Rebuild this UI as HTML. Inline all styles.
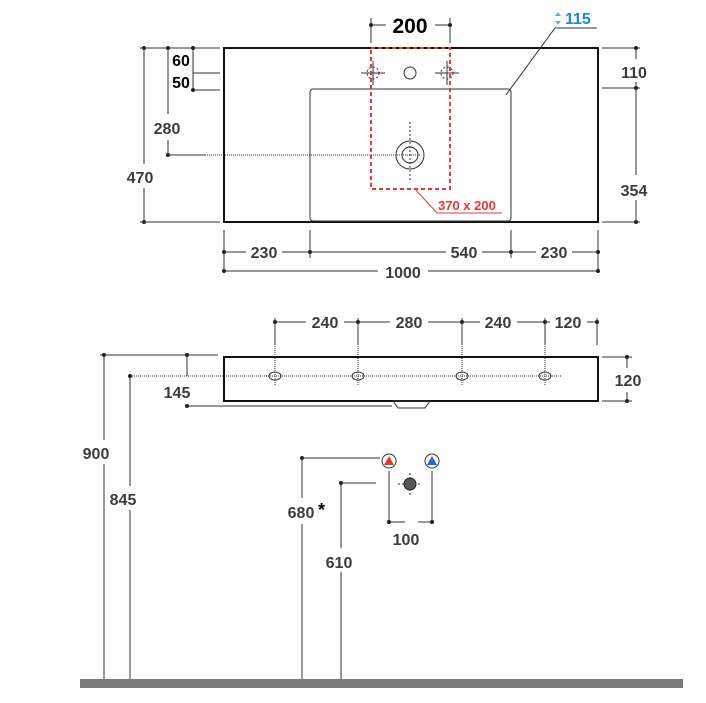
<!DOCTYPE html>
<html><head><meta charset="utf-8"><style>
html,body{margin:0;padding:0;background:#fff;}
svg text{font-family:"Liberation Sans",sans-serif;font-weight:bold;font-size:16px;fill:#3c3c3c;}
</style></head><body>
<svg width="706" height="698" viewBox="0 0 706 698" xmlns="http://www.w3.org/2000/svg">
<defs>
<marker id="d" viewBox="0 0 4 4" refX="2" refY="2" markerWidth="4" markerHeight="4" markerUnits="userSpaceOnUse"><circle cx="2" cy="2" r="2" fill="#222"/></marker>
</defs>
<g stroke="#333" stroke-width="1" fill="none">
<!-- top view -->
<rect x="224" y="48" width="374" height="174" stroke="#111" stroke-width="2"/>
<rect x="310" y="89" width="201" height="132" rx="3"/>
<circle cx="410" cy="155" r="14"/><circle cx="410" cy="155" r="8"/>
<line x1="410" y1="122" x2="410" y2="180" stroke-dasharray="2,2"/>
<circle cx="410" cy="73" r="6"/>
<circle cx="373" cy="73" r="6" stroke-dasharray="2,2"/><line x1="361" y1="73" x2="385" y2="73"/><line x1="373" y1="61" x2="373" y2="85"/>
<circle cx="447" cy="73" r="6" stroke-dasharray="2,2"/><line x1="435" y1="73" x2="459" y2="73"/><line x1="447" y1="61" x2="447" y2="85"/>
<rect x="371" y="48" width="79" height="141" stroke="#e53935" stroke-width="2" stroke-dasharray="4,3"/>
<polyline points="415,189 437,213 502,213" stroke="#e53935"/>
<line x1="371" y1="43" x2="371" y2="18"/><line x1="450" y1="43" x2="450" y2="18"/>
<line x1="371" y1="25" x2="386" y2="25" marker-start="url(#d)"/><line x1="435" y1="25" x2="450" y2="25" marker-end="url(#d)"/>
<polyline points="597,28 555,28 506,95"/>
<!-- left dims -->
<line x1="144" y1="48" x2="144" y2="164" marker-start="url(#d)"/><line x1="144" y1="188" x2="144" y2="222" marker-end="url(#d)"/>
<line x1="140" y1="48" x2="220" y2="48"/><line x1="140" y1="222" x2="220" y2="222"/>
<line x1="168" y1="48" x2="168" y2="114" marker-start="url(#d)"/><line x1="168" y1="140" x2="168" y2="155" marker-end="url(#d)"/>
<line x1="168" y1="155" x2="205" y2="155"/>
<line x1="205" y1="155" x2="420" y2="155" stroke-dasharray="1,1"/>
<line x1="193" y1="48" x2="193" y2="90" marker-start="url(#d)" marker-mid="url(#d)" marker-end="url(#d)"/>
<line x1="193" y1="73" x2="220" y2="73"/><line x1="193" y1="90" x2="220" y2="90"/>
<!-- right dims -->
<line x1="602" y1="48" x2="640" y2="48"/><line x1="602" y1="88" x2="640" y2="88"/><line x1="602" y1="222" x2="640" y2="222"/>
<line x1="636" y1="48" x2="636" y2="59" marker-start="url(#d)"/><line x1="636" y1="82" x2="636" y2="88" marker-end="url(#d)"/>
<line x1="636" y1="88" x2="636" y2="175"/><line x1="636" y1="200" x2="636" y2="222" marker-end="url(#d)"/>
<!-- bottom dims -->
<line x1="224" y1="230" x2="224" y2="270"/><line x1="310" y1="230" x2="310" y2="258"/><line x1="511" y1="230" x2="511" y2="258"/><line x1="598" y1="230" x2="598" y2="270"/>
<line x1="224" y1="252" x2="246" y2="252" marker-start="url(#d)"/><line x1="282" y1="252" x2="310" y2="252" marker-end="url(#d)"/>
<line x1="310" y1="252" x2="446" y2="252"/><line x1="482" y1="252" x2="511" y2="252" marker-end="url(#d)"/>
<line x1="511" y1="252" x2="536" y2="252"/><line x1="572" y1="252" x2="598" y2="252" marker-end="url(#d)"/>
<line x1="224" y1="271" x2="378" y2="271" marker-start="url(#d)"/><line x1="428" y1="271" x2="598" y2="271" marker-end="url(#d)"/>
<!-- front view -->
<rect x="224" y="357" width="374" height="44" stroke="#111" stroke-width="2"/>
<polygon points="393,401 398,408 425,408 430,401"/>
<line x1="130" y1="376" x2="562" y2="376" stroke-dasharray="1,1"/>
<g stroke-dasharray="1,1"><line x1="275" y1="322" x2="275" y2="386"/><line x1="358" y1="322" x2="358" y2="386"/><line x1="462" y1="322" x2="462" y2="386"/><line x1="545" y1="322" x2="545" y2="386"/></g>
<line x1="275" y1="318" x2="275" y2="345"/><line x1="358" y1="318" x2="358" y2="345"/><line x1="462" y1="318" x2="462" y2="345"/><line x1="545" y1="318" x2="545" y2="345"/><line x1="597" y1="318" x2="597" y2="345"/>
<ellipse cx="275" cy="376" rx="6" ry="4"/><ellipse cx="358" cy="376" rx="6" ry="4"/><ellipse cx="462" cy="376" rx="6" ry="4"/><ellipse cx="545" cy="376" rx="6" ry="4"/>
<line x1="275" y1="322" x2="306" y2="322" marker-start="url(#d)"/><line x1="344" y1="322" x2="358" y2="322" marker-end="url(#d)"/>
<line x1="358" y1="322" x2="390" y2="322"/><line x1="428" y1="322" x2="462" y2="322" marker-end="url(#d)"/>
<line x1="462" y1="322" x2="480" y2="322"/><line x1="517" y1="322" x2="545" y2="322" marker-end="url(#d)"/>
<line x1="545" y1="322" x2="550" y2="322"/><line x1="587" y1="322" x2="597" y2="322" marker-end="url(#d)"/>
<line x1="602" y1="357" x2="632" y2="357"/><line x1="602" y1="401" x2="632" y2="401"/>
<line x1="627" y1="357" x2="627" y2="368" marker-start="url(#d)"/><line x1="627" y1="392" x2="627" y2="401" marker-end="url(#d)"/>
<line x1="100" y1="355" x2="218" y2="355"/>
<line x1="187" y1="355" x2="187" y2="376" marker-start="url(#d)"/>
<line x1="187" y1="406" x2="392" y2="406" marker-start="url(#d)"/>
<line x1="104" y1="355" x2="104" y2="440" marker-start="url(#d)"/><line x1="104" y1="464" x2="104" y2="680"/>
<line x1="130" y1="376" x2="130" y2="486" marker-start="url(#d)"/><line x1="130" y1="510" x2="130" y2="680"/>
<line x1="302" y1="458" x2="302" y2="498" marker-start="url(#d)"/><line x1="302" y1="524" x2="302" y2="680"/>
<line x1="302" y1="458" x2="380" y2="458"/>
<line x1="341" y1="483" x2="341" y2="548" marker-start="url(#d)"/><line x1="341" y1="572" x2="341" y2="680"/>
<line x1="341" y1="483" x2="376" y2="483"/>
<line x1="389" y1="471" x2="389" y2="522"/><line x1="432" y1="471" x2="432" y2="522"/>
<line x1="389" y1="522" x2="405" y2="522" marker-start="url(#d)"/><line x1="418" y1="522" x2="432" y2="522" marker-end="url(#d)"/>
<line x1="398" y1="484" x2="422" y2="484" stroke-dasharray="2,2"/><line x1="410" y1="473" x2="410" y2="495" stroke-dasharray="2,2"/>
</g>
<circle cx="410" cy="484" r="6" fill="#555" stroke="#222"/>
<circle cx="389" cy="461" r="7" fill="#fff" stroke="#333"/><polygon points="389,456 394,465 384,465" fill="#e53935"/>
<circle cx="432" cy="461" r="7" fill="#fff" stroke="#333"/><polygon points="432,456 437,465 427,465" fill="#1e6fc2"/>
<polygon points="558,12 561,16 555,16" fill="#7ab"/><polygon points="558,25 561,21 555,21" fill="#7ab"/>
<rect x="80" y="679" width="603" height="9" fill="#7a7a7a"/>
<!-- texts -->
<text x="410" y="33" text-anchor="middle" style="font-size:21px;fill:#000">200</text>
<text x="565" y="24" style="font-size:16px;fill:#1e88d0">115</text>
<text x="438" y="210" style="font-size:13px;fill:#e53935">370 x 200</text>
<text x="181" y="66" text-anchor="middle" style="fill:#000">60</text>
<text x="181" y="88" text-anchor="middle" style="fill:#000">50</text>
<text x="167" y="134" text-anchor="middle">280</text>
<text x="140" y="183" text-anchor="middle">470</text>
<text x="634" y="78" text-anchor="middle">110</text>
<text x="634" y="196" text-anchor="middle">354</text>
<text x="264" y="258" text-anchor="middle">230</text>
<text x="464" y="258" text-anchor="middle">540</text>
<text x="554" y="258" text-anchor="middle">230</text>
<text x="403" y="278" text-anchor="middle">1000</text>
<text x="325" y="328" text-anchor="middle">240</text>
<text x="409" y="328" text-anchor="middle">280</text>
<text x="498" y="328" text-anchor="middle">240</text>
<text x="568" y="328" text-anchor="middle">120</text>
<text x="628" y="386" text-anchor="middle">120</text>
<text x="177" y="398" text-anchor="middle">145</text>
<text x="96" y="459" text-anchor="middle">900</text>
<text x="123" y="505" text-anchor="middle">845</text>
<text x="301" y="518" text-anchor="middle">680</text><text x="318" y="516" style="fill:#000;font-size:18px">*</text>
<text x="339" y="568" text-anchor="middle">610</text>
<text x="406" y="545" text-anchor="middle">100</text>
</svg>
</body></html>
